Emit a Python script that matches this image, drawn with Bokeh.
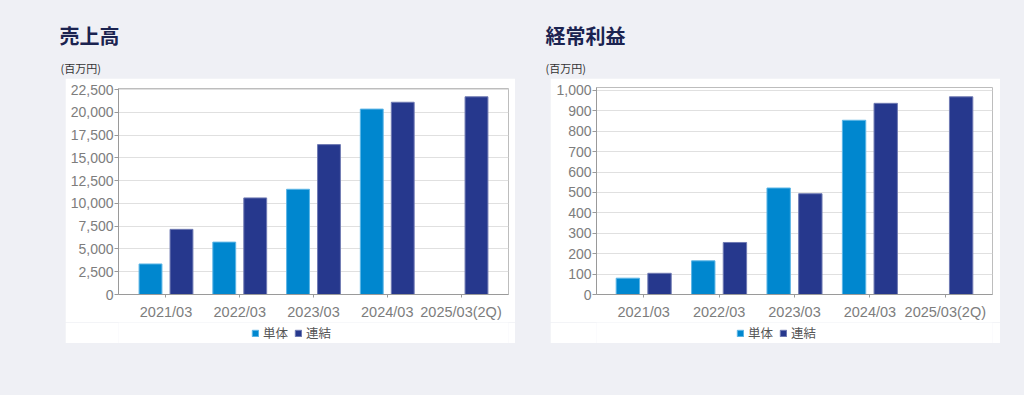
from bokeh.plotting import figure
from bokeh.models import (Range1d, FactorRange, NumeralTickFormatter, SingleIntervalTicker,
                          Legend, LegendItem, ColumnDataSource, Spacer)
from bokeh.layouts import column, row
from bokeh.transform import dodge
from bokeh.core.properties import value
from bokeh.embed import file_html
from bokeh.resources import INLINE

NAN = float("nan")

# ---- data ----
categories = ["2021/03", "2022/03", "2023/03", "2024/03", "2025/03(2Q)"]
series_names = ["単体", "連結"]
sales_tantai = [3350, 5750, 11550, 20350, NAN]
sales_renketsu = [7150, 10600, 16450, 21100, 21700]
profit_tantai = [80, 165, 522, 854, NAN]
profit_renketsu = [104, 255, 494, 937, 969]
titles = ["売上高", "経常利益"]
unit_label = "(百万円)"

BG = "#eff0f5"
C_TANTAI = "#0087cf"
C_RENKETSU = "#26388d"
L_TANTAI = "#5db6e6"
L_RENKETSU = "#6f7ab3"
TICK_FONT = "Liberation Sans"
CJK_FONT = "Noto Sans CJK JP"


def make_chart(tantai, renketsu, y_end, interval, b_left, b_top, b_right, pad):
    src = ColumnDataSource(dict(cat=categories, t=tantai, r=renketsu))
    p = figure(width=450, height=244, output_backend="svg", toolbar_location=None,
               x_range=FactorRange(*categories, range_padding=pad),
               y_range=Range1d(0, y_end),
               min_border_left=b_left, min_border_top=b_top, min_border_right=b_right,
               min_border_bottom=26)
    p.border_fill_color = "white"
    p.background_fill_color = "white"
    p.outline_line_color = "#bdbdbd"
    p.vbar(x=dodge("cat", -0.21, range=p.x_range), top="t", width=0.31, source=src,
           fill_color=C_TANTAI, line_color=L_TANTAI, line_width=1)
    p.vbar(x=dodge("cat", 0.21, range=p.x_range), top="r", width=0.31, source=src,
           fill_color=C_RENKETSU, line_color=L_RENKETSU, line_width=1)
    p.xgrid.grid_line_color = None
    p.ygrid.grid_line_color = "#e0e0e0"
    p.yaxis.ticker = SingleIntervalTicker(interval=interval)
    p.yaxis.formatter = NumeralTickFormatter(format="0,0")
    for ax in (p.xaxis[0], p.yaxis[0]):
        ax.axis_line_color = "#9a9a9a"
        ax.major_tick_line_color = "#9a9a9a"
        ax.minor_tick_line_color = None
        ax.major_tick_in = 0
        ax.major_label_text_color = "#7d7d7d"
        ax.major_label_text_font = TICK_FONT
    p.yaxis.major_tick_out = 4
    p.yaxis.major_label_standoff = 1
    p.yaxis.major_label_text_font_size = "14px"
    p.xaxis.major_tick_out = 3
    p.xaxis.major_label_standoff = 6
    p.xaxis.major_label_text_font_size = "14.5px"
    return p


def make_legend_strip(legend_x):
    q = figure(width=450, height=21, output_backend="svg", toolbar_location=None,
               x_range=Range1d(0, 1), y_range=Range1d(0, 1), min_border=0)
    q.axis.visible = False
    q.grid.grid_line_color = None
    q.outline_line_color = None
    q.background_fill_color = "white"
    q.border_fill_color = "white"
    # legend-only renderers (no visible bar: top is NaN)
    g1 = q.vbar(x=[0.5], top=[NAN], width=0.3, fill_color=C_TANTAI, line_color=L_TANTAI)
    g2 = q.vbar(x=[0.5], top=[NAN], width=0.3, fill_color=C_RENKETSU, line_color=L_RENKETSU)
    leg = Legend(items=[LegendItem(label=series_names[0], renderers=[g1]),
                        LegendItem(label=series_names[1], renderers=[g2])],
                 orientation="horizontal", location=(legend_x, 1),
                 glyph_width=8, glyph_height=8, label_standoff=4, spacing=6,
                 padding=0, margin=0, border_line_color=None, background_fill_alpha=0,
                 label_text_font_size="12.5px", label_text_font=CJK_FONT,
                 label_text_color="#555555", label_height=14)
    q.add_layout(leg, "center")
    return q


left = make_chart(sales_tantai, sales_renketsu, 22610, 2500, 53, 10, 7, 0.0576)
right = make_chart(profit_tantai, profit_renketsu, 1014.6, 100, 46, 9, 8, 0.0504)
# legend strips are frame-aligned with the charts above them
left_leg = make_legend_strip(186 - 53)
right_leg = make_legend_strip(186 - 46)

# header with titles (page has no margin: include the 8px offset)
hdr = figure(width=1024, height=78, output_backend="svg", toolbar_location=None,
             x_range=Range1d(0, 1024), y_range=Range1d(78, 0), min_border=0)
hdr.axis.visible = False
hdr.grid.grid_line_color = None
hdr.outline_line_color = None
hdr.background_fill_color = BG
hdr.border_fill_color = BG
hdr.text(x=[59, 545], y=[35, 35], text=titles, text_font=value(CJK_FONT),
         text_font_style="bold", text_font_size="20px", text_color="#1b2350",
         text_baseline="middle")
hdr.text(x=[60, 545], y=[67.5, 67.5], text=[unit_label, unit_label], text_font=value(CJK_FONT),
         text_font_size="11px", text_color="#333333", text_baseline="middle")

layout = column(hdr,
                row(Spacer(width=65, height=265),
                    column(left, left_leg, spacing=0),
                    Spacer(width=35, height=265),
                    column(right, right_leg, spacing=0), spacing=0),
                spacing=0)

html = file_html(layout, INLINE)
html = html.replace("<head>", "<head><style>html,body{background:%s;}</style>" % BG, 1)
open("out.html", "w").write(html)
